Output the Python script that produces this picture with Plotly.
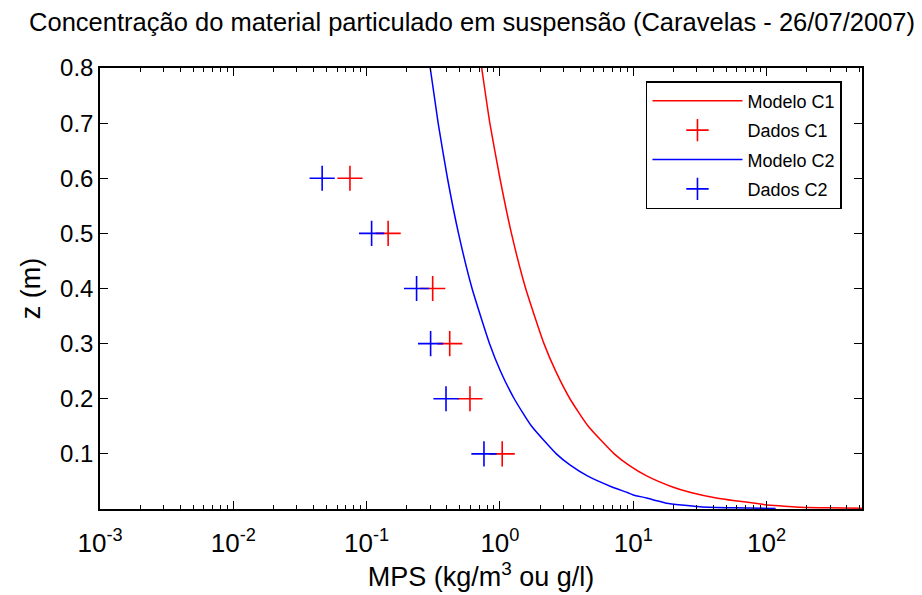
import plotly.graph_objects as go

# Model profiles: height above bed z (m) and concentration (kg/m3)
modelo_c1_z = [0.80, 0.70, 0.60, 0.50, 0.40, 0.30, 0.25, 0.20, 0.15, 0.10, 0.08,
               0.06, 0.04, 0.03, 0.02, 0.015, 0.01, 0.0073, 0.0052, 0.0031, 0.0022, 0.0015]
modelo_c1_c = [0.73, 0.84, 1.00, 1.22, 1.56, 2.14, 2.62, 3.35, 4.6, 7.2, 9.2,
               12.6, 19.7, 27.0, 42.0, 58.0, 85.0, 100.0, 135.0, 178.0, 280.0, 520.0]

modelo_c2_z = [0.80, 0.70, 0.60, 0.50, 0.40, 0.30, 0.25, 0.20, 0.15, 0.10, 0.08,
               0.06, 0.04, 0.03, 0.0255, 0.02, 0.015, 0.0104, 0.0072, 0.0042, 0.0022, 0.001]
modelo_c2_c = [0.30, 0.344, 0.404, 0.489, 0.618, 0.836, 1.01, 1.28, 1.73, 2.65, 3.35,
               4.53, 6.93, 9.0, 10.0, 12.6, 15.0, 17.8, 23.0, 31.6, 56.0, 117.0]

# Measured concentrations
dados_z = [0.6, 0.5, 0.4, 0.3, 0.2, 0.1]
dados_c1 = [0.075, 0.145, 0.313, 0.42, 0.596, 1.04]
dados_c2 = [0.0464, 0.109, 0.237, 0.302, 0.394, 0.759]

x_tickvals = [0.001, 0.01, 0.1, 1, 10, 100]
x_ticktext = ["10<sup>-3</sup>", "10<sup>-2</sup>", "10<sup>-1</sup>",
              "10<sup>0</sup>", "10<sup>1</sup>", "10<sup>2</sup>"]
y_ticks = [0.1, 0.2, 0.3, 0.4, 0.5, 0.6, 0.7, 0.8]

FONT = "Liberation Sans, Arial, sans-serif"

fig = go.Figure()
fig.add_trace(go.Scatter(x=modelo_c1_c, y=modelo_c1_z, mode="lines", name="Modelo C1",
                         legendgroup="a",
                         line=dict(color="#ff0000", width=1.5, shape="spline", smoothing=0.5)))
fig.add_trace(go.Scatter(x=dados_c1, y=dados_z, mode="markers", name="Dados C1",
                         legendgroup="b",
                         marker=dict(symbol="cross-thin-open", size=18, color="#ff0000",
                                     line=dict(color="#ff0000", width=1.6))))
fig.add_trace(go.Scatter(x=modelo_c2_c, y=modelo_c2_z, mode="lines", name="Modelo C2",
                         legendgroup="c",
                         line=dict(color="#0000ff", width=1.5, shape="spline", smoothing=0.5)))
fig.add_trace(go.Scatter(x=dados_c2, y=dados_z, mode="markers", name="Dados C2",
                         legendgroup="d",
                         marker=dict(symbol="cross-thin-open", size=18, color="#0000ff",
                                     line=dict(color="#0000ff", width=1.6))))

fig.update_layout(
    width=922, height=595,
    margin=dict(l=100, r=60, t=68, b=86),
    paper_bgcolor="white", plot_bgcolor="white",
    font=dict(family=FONT, color="black"),
    title=dict(text="Concentração do material particulado em suspensão (Caravelas - 26/07/2007)",
               x=0.512, xanchor="center", y=0.963, yanchor="middle",
               font=dict(size=25.5, family=FONT, color="black")),
    legend=dict(x=0.7165, y=0.9705, xanchor="left", yanchor="top",
                bgcolor="white", bordercolor="black", borderwidth=1.5,
                font=dict(size=18, family=FONT), itemwidth=90, tracegroupgap=3),
    showlegend=True,
)

fig.update_xaxes(
    type="log", range=[-3, 2.716], tickvals=x_tickvals, ticktext=x_ticktext,
    showline=True, linecolor="black", linewidth=1.5, mirror="allticks",
    ticks="inside", ticklen=8, tickwidth=1.3, tickcolor="black",
    showgrid=False, zeroline=False,
    minor=dict(ticks="inside", ticklen=4, tickwidth=1, tickcolor="black", dtick="D1", showgrid=False),
    tickfont=dict(size=26, family=FONT), ticklabelstandoff=10,
    title=dict(text="MPS (kg/m<sup>3</sup> ou g/l)", font=dict(size=27, family=FONT), standoff=2),
)
fig.update_yaxes(
    range=[0, 0.8], tickvals=y_ticks, ticktext=[f"{v:.1f}" for v in y_ticks],
    showline=True, linecolor="black", linewidth=1.5, mirror="allticks",
    ticks="inside", ticklen=8, tickwidth=1.3, tickcolor="black",
    showgrid=False, zeroline=False,
    tickfont=dict(size=24, family=FONT),
    title=dict(text="z (m)", font=dict(size=27, family=FONT), standoff=12),
)

fig.write_html("out.html")
